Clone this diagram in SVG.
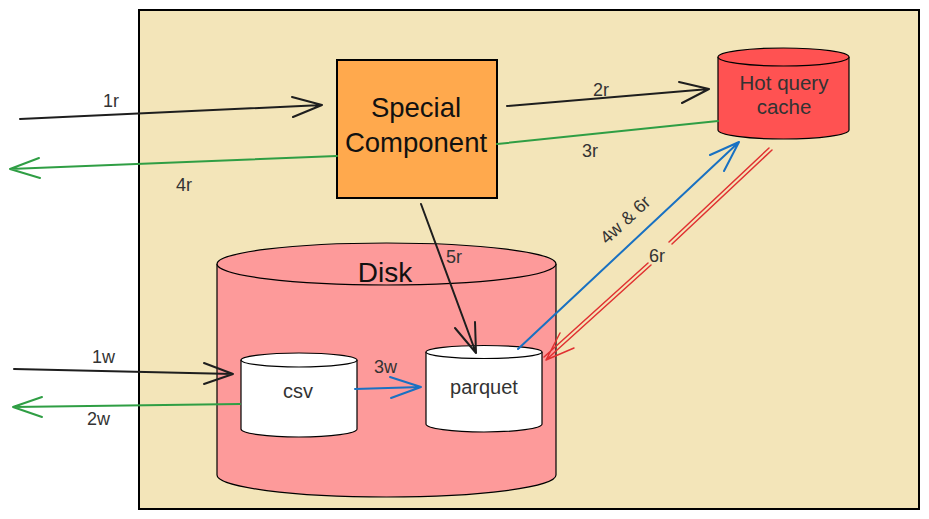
<svg xmlns="http://www.w3.org/2000/svg" width="929" height="519" viewBox="0 0 929 519">
<style>
.lbl{font-family:"Liberation Sans",Arial,sans-serif;font-size:18px;fill:#333}
.shape{stroke:#000;stroke-width:1.2}
.nt{font-family:"Liberation Sans",Arial,sans-serif;fill:#333;text-anchor:middle}
.blk{stroke:#1e1e1e;stroke-width:2;fill:none;stroke-linecap:round;stroke-linejoin:round}
.grn{stroke:#2f9e44;stroke-width:2;fill:none;stroke-linecap:round;stroke-linejoin:round}
.blu{stroke:#1971c2;stroke-width:2;fill:none;stroke-linecap:round;stroke-linejoin:round}
.red{stroke:#e03131;stroke-width:1.5;fill:none;stroke-linecap:round;stroke-linejoin:round}
</style>
<rect width="929" height="519" fill="#fff"/>
<g id="system">
<rect x="139" y="10" width="780" height="499" fill="#f3e5b9" stroke="#000" stroke-width="2"/>
</g>
<g id="disk">
<path class="shape" d="M217,264 L217,475 A169.5,22 0 0 0 556,475 L556,264" fill="#fd9a9a"/>
<ellipse class="shape" cx="386.5" cy="264" rx="169.5" ry="21" fill="#fd9a9a"/>
<text class="nt" x="385" y="282" font-size="28" style="fill:#111">Disk</text>
</g>
<g id="special-component">
<rect x="337" y="60" width="160" height="138" fill="#ffa94d" stroke="#000" stroke-width="2"/>
<text class="nt" x="416" y="117" font-size="27.5" style="fill:#111">Special</text>
<text class="nt" x="416" y="152" font-size="27.5" style="fill:#111">Component</text>
</g>
<g id="hot-query-cache">
<path class="shape" d="M718,57 L718,130 A65.5,9 0 0 0 849,130 L849,57" fill="#ff5252"/>
<ellipse class="shape" cx="783.5" cy="57" rx="65.5" ry="9" fill="#ff5252"/>
<text class="nt" x="784" y="90" font-size="20.5">Hot query</text>
<text class="nt" x="784" y="114" font-size="20.5">cache</text>
</g>
<g id="csv">
<path class="shape" d="M241,360 L241,429 A58,8 0 0 0 357,429 L357,360" fill="#fff"/>
<ellipse class="shape" cx="299" cy="360" rx="58" ry="7" fill="#fff"/>
<text class="nt" x="298" y="398" font-size="20">csv</text>
</g>
<g id="parquet">
<path class="shape" d="M426,352 L426,424 A58,8 0 0 0 542,424 L542,352" fill="#fff"/>
<ellipse class="shape" cx="484" cy="352" rx="58" ry="6.5" fill="#fff"/>
<text class="nt" x="484" y="394" font-size="20">parquet</text>
</g>
<g id="connectors">
<path class="blk" d="M20,119 L322,105 M292,97 L322,105 L293,117"/>
<text class="lbl" x="103" y="107">1r</text>
<path class="blk" d="M507,106 L709,89 M679,82 L709,89 L682,103"/>
<text class="lbl" x="593" y="96">2r</text>
<path class="grn" d="M718,121 L497,144"/>
<text class="lbl" x="582" y="157">3r</text>
<path class="grn" d="M337,156 L10,169 M39,158 L10,169 L40,178"/>
<text class="lbl" x="176" y="191">4r</text>
<path class="blk" d="M421,204 L476,353 M455,328 L476,353 L475,322"/>
<text class="lbl" x="446" y="263">5r</text>
<path class="blu" d="M518,349 L739,142 M710,155 L739,142 L724,171"/>
<text class="lbl" x="0" y="0" font-size="20" transform="translate(607,245) rotate(-43)">4w &amp; 6r</text>
<path class="red" d="M772,150 L672,244 M651,265 L546,360 M769,148 L669,242 M648,263 L544,357 M560,333 L546,360 L574,348"/>
<text class="lbl" x="649" y="262">6r</text>
<path class="blk" d="M14,369 L233,374 M204,363 L233,374 L204,384"/>
<text class="lbl" x="92" y="363">1w</text>
<path class="grn" d="M240,404 L13,407 M42,397 L13,407 L42,417"/>
<text class="lbl" x="87" y="425">2w</text>
<path class="blu" d="M355,389 L421,387 M390,377 L421,387 L391,398"/>
<text class="lbl" x="374" y="373">3w</text>
</g>
</svg>
